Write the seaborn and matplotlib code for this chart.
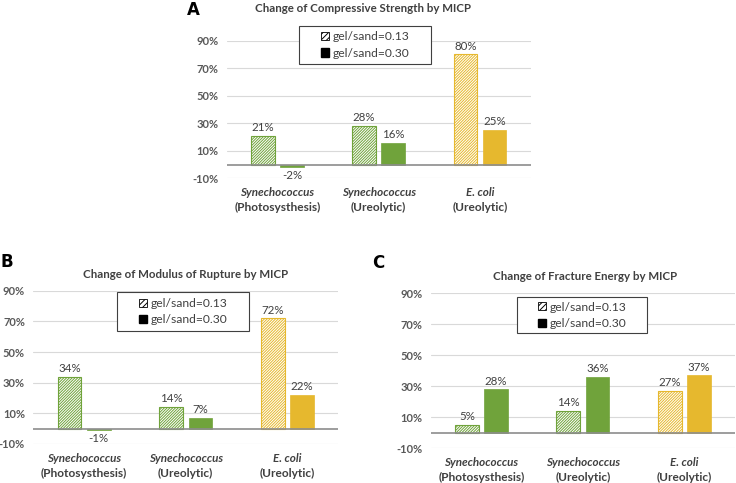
import matplotlib
matplotlib.use("Agg")
from matplotlib import pyplot as plt
from matplotlib.patches import Patch, Rectangle
import pandas as pd
import seaborn as sns

# data
categories = ["Synechococcus", "Synechococcus", "E. coli"]
subtitles = ["(Photosysthesis)", "(Ureolytic)", "(Ureolytic)"]
ratios = ["gel/sand=0.13", "gel/sand=0.30"]
yticks = [-10, 10, 30, 50, 70, 90]

strength_013 = [21, 28, 80]
strength_030 = [-2, 16, 25]
rupture_013 = [34, 14, 72]
rupture_030 = [-1, 7, 22]
fracture_013 = [5, 14, 27]
fracture_030 = [28, 36, 37]

green = "#70A33B"
yellow = "#E6B82E"
bar_colors = [green, green, yellow]

sns.set_style("white")
plt.rcParams["font.family"] = ["Lato", "DejaVu Sans"]
plt.rcParams["hatch.linewidth"] = 0.7

fig = plt.figure(figsize=(7.36, 4.83), dpi=100)
W, H = 736, 483


def px_axes(left, top, right, bottom):
    return fig.add_axes([left / W, 1 - bottom / H, (right - left) / W, (bottom - top) / H])


def draw_panel(ax, v013, v030):
    df = pd.DataFrame({
        "cat": [0, 1, 2] * 2,
        "ratio": [ratios[0]] * 3 + [ratios[1]] * 3,
        "value": v013 + v030,
    })
    sns.barplot(data=df, x="cat", y="value", hue="ratio", hue_order=ratios,
                width=0.576, gap=0.19, errorbar=None, legend=False, ax=ax)
    for k, cont in enumerate(ax.containers):
        for i, bar in enumerate(cont):
            if k == 0:
                bar.set_facecolor("white")
                bar.set_edgecolor(bar_colors[i])
                bar.set_hatch("/" * 12)
                bar.set_linewidth(0.8)
            else:
                bar.set_facecolor(bar_colors[i])
                bar.set_edgecolor(bar_colors[i])
                bar.set_linewidth(0.5)
        ax.bar_label(cont, fmt="%d%%", padding=2, fontsize=8.3, color="#404040")
    ax.set_ylim(-10, 90)
    ax.set_xlim(-0.5, 2.5)
    ax.set_yticks(yticks)
    ax.set_yticklabels([f"{t}%" for t in yticks], fontsize=8,
                       fontweight="bold", color="#595959")
    ax.tick_params(axis="y", length=0, pad=6)
    ax.set_xticks([])
    ax.set_xlabel("")
    ax.set_ylabel("")
    ax.yaxis.grid(True, color="#d9d9d9", lw=0.8)
    ax.set_axisbelow(True)
    ax.axhline(0, color="#8c8c8c", lw=1.2, zorder=1)
    sns.despine(ax=ax, left=True, bottom=True)
    for i in range(3):
        ax.annotate(categories[i], xy=(i, 0), xycoords=("data", "axes fraction"),
                    xytext=(0, -10.5), textcoords="offset points", ha="center", va="center",
                    fontsize=8.4, fontweight="bold", fontstyle="italic", color="#404040")
        ax.annotate(subtitles[i], xy=(i, 0), xycoords=("data", "axes fraction"),
                    xytext=(0, -21), textcoords="offset points", ha="center", va="center",
                    fontsize=8.6, fontweight="bold", color="#404040")


def legend_box(left, top, right, bottom):
    fig.add_artist(Rectangle((left / W, 1 - bottom / H), (right - left) / W, (bottom - top) / H,
                             transform=fig.transFigure, facecolor="white",
                             edgecolor="#404040", lw=0.8, zorder=2))
    handles = [Patch(facecolor="white", edgecolor="black", hatch="//////", lw=0.6),
               Patch(facecolor="black", edgecolor="black")]
    leg = fig.legend(handles, ratios, loc="center",
                     bbox_to_anchor=((left + right) / 2 / W, 1 - (top + bottom) / 2 / H),
                     frameon=False, fontsize=8.7, handlelength=0.65, handleheight=0.65,
                     handletextpad=0.3, labelspacing=0.45, borderpad=0)
    leg.set_zorder(3)
    for t in leg.get_texts():
        t.set_color("#404040")


axA = px_axes(226.7, 40.7, 530.7, 178.3)
draw_panel(axA, strength_013, strength_030)
axB = px_axes(33.3, 290.7, 338.3, 444)
draw_panel(axB, rupture_013, rupture_030)
axC = px_axes(430.7, 293.3, 735, 448.3)
draw_panel(axC, fracture_013, fracture_030)

legend_box(299.3, 26, 431, 64)
legend_box(117.3, 292.3, 249.3, 331)
legend_box(516.7, 297.3, 647.3, 333.3)

title_kw = dict(ha="center", va="center", fontsize=8.3, fontweight="bold", color="#404040")
fig.text(362.8 / W, 1 - 9 / H, "Change of Compressive Strength by MICP", **title_kw)
fig.text(186 / W, 1 - 274 / H, "Change of Modulus of Rupture by MICP", **title_kw)
fig.text(585 / W, 1 - 276 / H, "Change of Fracture Energy by MICP", **title_kw)

letter_kw = dict(ha="center", va="center", fontsize=12, fontweight="bold", color="black",
                 family=["DejaVu Sans"])
fig.text(193 / W, 1 - 10 / H, "A", **letter_kw)
fig.text(6.5 / W, 1 - 261.7 / H, "B", **letter_kw)
fig.text(378.5 / W, 1 - 263 / H, "C", **letter_kw)

fig.savefig("out.png", dpi=100)
